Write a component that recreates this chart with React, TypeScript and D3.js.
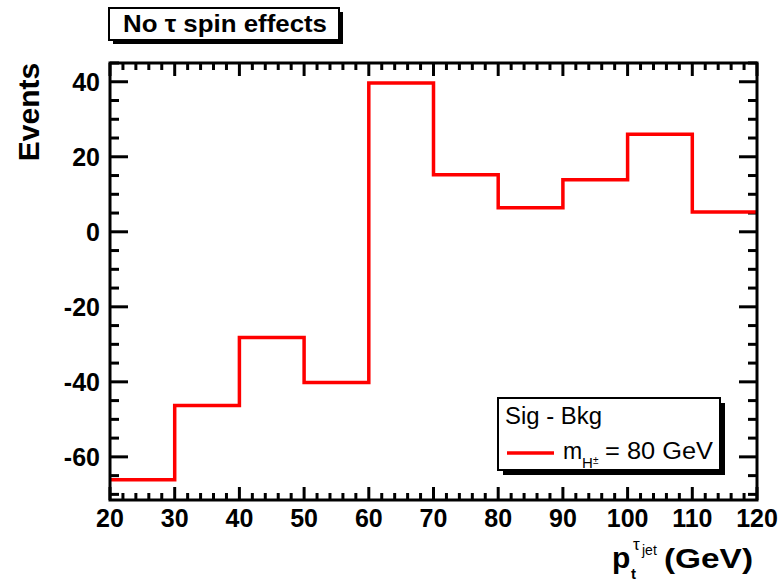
import React, { useEffect, useRef } from 'react';
import * as d3 from 'd3';

// bin edges in pt (GeV) and Sig - Bkg content per bin
const binEdges = [20, 30, 40, 50, 60, 70, 80, 90, 100, 110, 120];
const binValues = [-66.1, -46.3, -28.2, -40.2, 39.7, 15.2, 6.4, 13.9, 26.0, 5.3];
const xTicks = [20, 30, 40, 50, 60, 70, 80, 90, 100, 110, 120];
const yTicks = [-60, -40, -20, 0, 20, 40];

const W = 778;
const H = 583;
const FONT = "'Liberation Sans', Arial, Helvetica, sans-serif";

const App = () => {
  const ref = useRef<SVGSVGElement>(null);

  useEffect(() => {
    const svg = d3.select(ref.current);
    svg.selectAll('*').remove();

    const frame = { left: 110, right: 757, top: 63, bottom: 500 };

    const x = d3.scaleLinear().domain([20, 120]).range([frame.left, frame.right]);
    const y = d3.scaleLinear().domain([-71.5, 45]).range([frame.bottom, frame.top]);

    /**
    * Ticks
    **/
    const ticks = svg.append('g').attr('stroke', '#000').attr('stroke-width', 3);

    const xMinor = d3.range(20, 120.1, 2);
    xMinor.forEach((v) => {
      const major = v % 10 === 0;
      const len = major ? 13 : 7;
      ticks.append('line')
        .attr('x1', x(v)).attr('x2', x(v))
        .attr('y1', frame.bottom).attr('y2', frame.bottom - len);
      ticks.append('line')
        .attr('x1', x(v)).attr('x2', x(v))
        .attr('y1', frame.top).attr('y2', frame.top + len);
    });

    const yMinor = d3.range(-70, 45.1, 5);
    yMinor.forEach((v) => {
      const major = v % 20 === 0;
      const len = major ? 18 : 9;
      ticks.append('line')
        .attr('x1', frame.left).attr('x2', frame.left + len)
        .attr('y1', y(v)).attr('y2', y(v));
      ticks.append('line')
        .attr('x1', frame.right).attr('x2', frame.right - len)
        .attr('y1', y(v)).attr('y2', y(v));
    });

    // histogram as a step line
    const pts: [number, number][] = [];
    binValues.forEach((v, i) => {
      pts.push([binEdges[i], v]);
      pts.push([binEdges[i + 1], v]);
    });
    const line = d3.line<[number, number]>()
      .x((d) => x(d[0]))
      .y((d) => y(d[1]));

    svg.append('path')
      .attr('d', line(pts))
      .attr('fill', 'none')
      .attr('stroke', '#ff0000')
      .attr('stroke-width', 3.5);

    // frame
    svg.append('rect')
      .attr('x', frame.left).attr('y', frame.top)
      .attr('width', frame.right - frame.left)
      .attr('height', frame.bottom - frame.top)
      .attr('fill', 'none')
      .attr('stroke', '#000')
      .attr('stroke-width', 3);

    /**
    * Tick labels
    **/
    svg.append('g').selectAll('text').data(xTicks).enter()
      .append('text')
        .attr('x', (d) => x(d))
        .attr('y', 527)
        .attr('text-anchor', 'middle')
        .attr('font-family', FONT)
        .attr('font-weight', 'bold')
        .attr('font-size', 25)
        .text((d) => d);

    svg.append('g').selectAll('text').data(yTicks).enter()
      .append('text')
        .attr('x', 100)
        .attr('y', (d) => y(d) + 9)
        .attr('text-anchor', 'end')
        .attr('font-family', FONT)
        .attr('font-weight', 'bold')
        .attr('font-size', 25)
        .text((d) => d);

    /**
    * Axis titles
    **/
    svg.append('text')
      .attr('transform', 'translate(39,112) rotate(-90)')
      .attr('text-anchor', 'middle')
      .attr('font-family', FONT)
      .attr('font-weight', 'bold')
      .attr('font-size', 30)
      .text('Events');

    const xTitle = svg.append('g')
      .attr('font-family', FONT)
      .attr('font-weight', 'bold');
    xTitle.append('text').attr('x', 612).attr('y', 568).attr('font-size', 30).text('p');
    xTitle.append('text').attr('x', 631).attr('y', 579).attr('font-size', 15).text('t');
    xTitle.append('text').attr('x', 633).attr('y', 550).attr('font-size', 17)
      .attr('font-weight', 'normal').text('τ');
    xTitle.append('text').attr('x', 642).attr('y', 555).attr('font-size', 14)
      .attr('font-weight', 'normal').text('jet');
    xTitle.append('text').attr('x', 664).attr('y', 568).attr('font-size', 28)
      .attr('textLength', 89).attr('lengthAdjust', 'spacingAndGlyphs').text('(GeV)');

    /**
    * Title box
    **/
    const tb = { x: 109, y: 8, w: 230, h: 32 };
    svg.append('rect')
      .attr('x', tb.x + 4).attr('y', tb.y + 4)
      .attr('width', tb.w).attr('height', tb.h)
      .attr('fill', '#000');
    svg.append('rect')
      .attr('x', tb.x).attr('y', tb.y)
      .attr('width', tb.w).attr('height', tb.h)
      .attr('fill', '#fff').attr('stroke', '#000').attr('stroke-width', 2);
    svg.append('text')
      .attr('x', 123)
      .attr('y', 32)
      .attr('font-family', FONT)
      .attr('font-weight', 'bold')
      .attr('font-size', 24)
      .attr('textLength', 204)
      .attr('lengthAdjust', 'spacingAndGlyphs')
      .text('No τ spin effects');

    /**
    * Legend
    **/
    const lg = { x: 498, y: 398, w: 222, h: 72 };
    svg.append('rect')
      .attr('x', lg.x + 5).attr('y', lg.y + 5)
      .attr('width', lg.w).attr('height', lg.h)
      .attr('fill', '#000');
    svg.append('rect')
      .attr('x', lg.x).attr('y', lg.y)
      .attr('width', lg.w).attr('height', lg.h)
      .attr('fill', '#fff').attr('stroke', '#000').attr('stroke-width', 2);
    svg.append('text')
      .attr('x', 505).attr('y', 424)
      .attr('font-family', FONT)
      .attr('font-size', 23)
      .attr('textLength', 97)
      .attr('lengthAdjust', 'spacingAndGlyphs')
      .text('Sig - Bkg');
    svg.append('line')
      .attr('x1', 507).attr('x2', 554)
      .attr('y1', 453).attr('y2', 453)
      .attr('stroke', '#ff0000').attr('stroke-width', 3.5);
    const lt = svg.append('g').attr('font-family', FONT);
    lt.append('text').attr('x', 563).attr('y', 459).attr('font-size', 23).text('m');
    lt.append('text').attr('x', 582).attr('y', 468).attr('font-size', 15).text('H');
    lt.append('text').attr('x', 593).attr('y', 464).attr('font-size', 10).text('±');
    lt.append('text').attr('x', 605).attr('y', 459).attr('font-size', 23)
      .attr('textLength', 108).attr('lengthAdjust', 'spacingAndGlyphs').text('= 80 GeV');
  }, []);

  return (
    <svg
      ref={ref}
      width={W}
      height={H}
      style={{ position: 'absolute', left: 0, top: 0, background: '#fff' }}
    />
  );
};

export default App;
